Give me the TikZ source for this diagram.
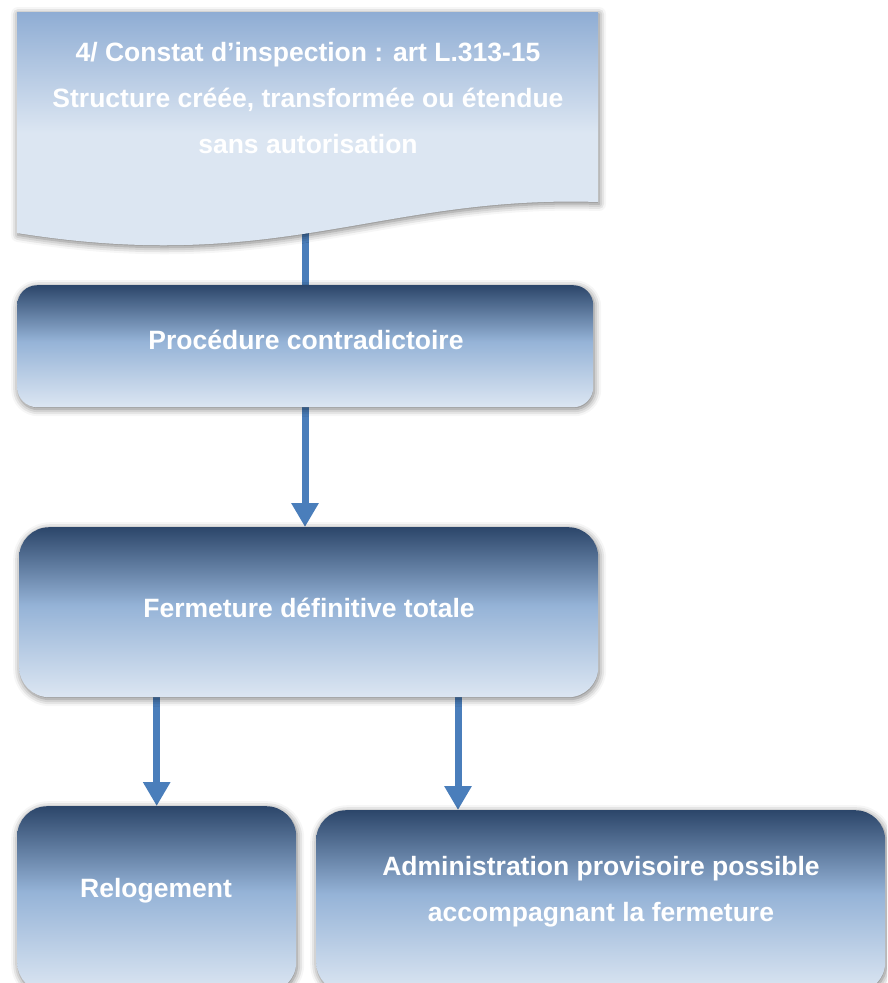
\documentclass[tikz,border=0pt]{standalone}
\usepackage{fontspec}
\setmainfont{Liberation Sans}
\usetikzlibrary{arrows.meta,shadows.blur}

\definecolor{boxdark}{HTML}{2C466A}
\definecolor{boxmid}{HTML}{95B3D7}
\definecolor{boxlight}{HTML}{DCE6F2}
\definecolor{doctop}{HTML}{8FADD4}
\definecolor{flow}{HTML}{4A7EBB}

% vertical shadings: the filled path spans 25bp (bottom) .. 75bp (top)
\pgfdeclareverticalshading{stepshade}{100bp}{%
  color(0bp)=(boxlight); color(25bp)=(boxlight); color(52bp)=(boxmid);
  color(75bp)=(boxdark); color(100bp)=(boxdark)}
\pgfdeclareverticalshading{docshade}{100bp}{%
  color(0bp)=(boxlight); color(25bp)=(boxlight); color(52bp)=(boxlight);
  color(75bp)=(doctop); color(100bp)=(doctop)}

\pgfdeclarelayer{background}
\pgfsetlayers{background,main}

\tikzset{
  softshadow/.style={blur shadow={shadow xshift=1pt, shadow yshift=-2pt,
      shadow blur radius=7pt, shadow opacity=55}},
  stepbox/.style={draw=none, shading=stepshade, softshadow,
      inner sep=0pt, anchor=north west},
  label/.style={text=white, font=\fontsize{26.5}{46}\selectfont\bfseries,
      align=center, inner sep=0pt, anchor=base},
  flowline/.style={draw=flow, line width=7pt},
  flowarrow/.style={flowline, -{Triangle[width=26pt,length=24pt]}},
}

\begin{document}
\begin{tikzpicture}[x=1pt,y=1pt]
\useasboundingbox (0,0) rectangle (887,-983);
\clip (0,0) rectangle (887,-983);

% inspection report: document shape with wavy lower edge
\path[shading=docshade, softshadow]
  (17,-12) -- (598,-12) -- (598,-202)
  .. controls (380,-195) and (280,-275) .. (17,-233) -- cycle;
\coordinate (doc) at (305,-232);
% base anchor of a multi-line node sits on its last line
\node[label] (t1) at (308,-153) {4/ Constat d’inspection : art L.313-15\\
  Structure créée, transformée ou étendue\\ sans autorisation};

% process steps
\node[stepbox, rounded corners=20pt, minimum width=576pt, minimum height=122pt]
  (b2) at (17,-285) {};
\node[label] (t2) at (306,-349) {Procédure contradictoire};

\node[stepbox, rounded corners=30pt, minimum width=579pt, minimum height=170pt]
  (b3) at (19,-527) {};
\node[label] (t3) at (309,-617) {Fermeture définitive totale};

\node[stepbox, rounded corners=30pt, minimum width=279pt, minimum height=186pt]
  (b4) at (17,-806) {};
\node[label] (t4) at (156,-897) {Relogement};

\node[stepbox, rounded corners=30pt, minimum width=569pt, minimum height=182pt]
  (b5) at (316,-810) {};
\node[label] (t5) at (601,-921) {Administration provisoire possible\\
  accompagnant la fermeture};

\coordinate (split) at (458,-697);

% connectors
\begin{pgfonlayer}{background}
  \draw[flowline] (doc) -- (doc |- b2.north);
  \draw[flowarrow] (doc |- b2.south) -- (doc |- b3.north);
  \draw[flowarrow] (b4.north |- b3.south) -- (b4.north);
  \draw[flowarrow] (split) -- (split |- b5.north);
\end{pgfonlayer}
\end{tikzpicture}
\end{document}
